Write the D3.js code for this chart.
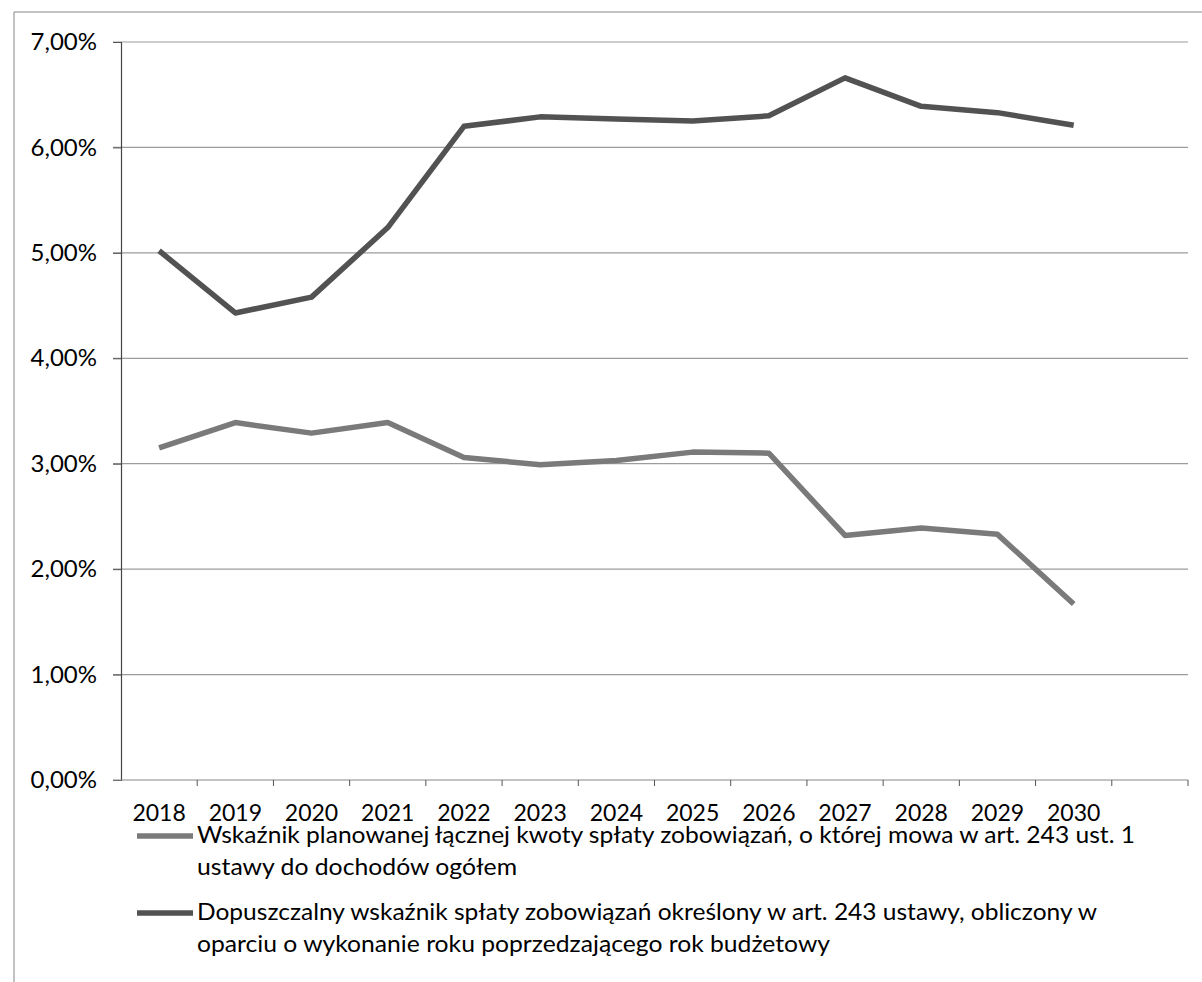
<!DOCTYPE html>
<html>
<head>
<meta charset="utf-8">
<script src="https://cdn.jsdelivr.net/npm/d3@7"></script>
<style>
  html, body { margin: 0; padding: 0; background: #fff; }
  svg { display: block; font-family: Lato, "Open Sans", sans-serif; }
</style>
</head>
<body>
<div id="chart"></div>
<script>
const years = ['2018', '2019', '2020', '2021', '2022', '2023', '2024', '2025', '2026', '2027', '2028', '2029', '2030', ''];
const yTicks = [0, 0.01, 0.02, 0.03, 0.04, 0.05, 0.06, 0.07];

// Wskaźnik planowanej łącznej kwoty spłaty zobowiązań
const planowany = [0.0315, 0.0339, 0.0329, 0.0339, 0.0306, 0.0299, 0.0303, 0.0311, 0.0310, 0.0232, 0.0239, 0.0233, 0.0167, null];
// Dopuszczalny wskaźnik spłaty zobowiązań
const dopuszczalny = [0.0502, 0.0443, 0.0458, 0.0524, 0.0620, 0.0629, 0.0627, 0.0625, 0.0630, 0.0666, 0.0639, 0.0633, 0.0621, null];

const legendLabels = [
  ['Wskaźnik planowanej łącznej kwoty spłaty zobowiązań, o której mowa w art. 243 ust. 1',
   'ustawy do dochodów ogółem'],
  ['Dopuszczalny wskaźnik spłaty zobowiązań określony w art. 243 ustawy, obliczony w',
   'oparciu o wykonanie roku poprzedzającego rok budżetowy']
];
const seriesColors = ['#7a7a7a', '#525252'];

const width = 1202;
const height = 982;
const margin = {top: 42, right: 14, bottom: 202, left: 121};

const svg = d3.select('#chart').append('svg')
  .attr('width', width)
  .attr('height', height);

// frame of the scanned box
svg.append('line')
  .attr('x1', 14).attr('x2', 14).attr('y1', 12).attr('y2', height)
  .attr('stroke', '#9a9a9a').attr('stroke-width', 1.2);
svg.append('line')
  .attr('x1', 14).attr('x2', width).attr('y1', 12).attr('y2', 12)
  .attr('stroke', '#8a8a8a').attr('stroke-width', 1.2);

// Scales
const xScale = d3.scaleBand()
  .domain(years)
  .range([margin.left, width - margin.right]);

const yScale = d3.scaleLinear()
  .domain([0, 0.07])
  .range([height - margin.bottom, margin.top]);

const fmt = d => d3.format('.2f')(d * 100).replace('.', ',') + '%';

// gridlines
svg.append('g')
  .selectAll('line')
  .data(yTicks.slice(1))
  .enter().append('line')
  .attr('x1', margin.left - 8)
  .attr('x2', width - margin.right)
  .attr('y1', d => yScale(d))
  .attr('y2', d => yScale(d))
  .attr('stroke', '#9c9c9c')
  .attr('stroke-width', 1.2);

// y axis
const yAxisG = svg.append('g')
  .attr('transform', `translate(${margin.left}, 0)`)
  .call(d3.axisLeft(yScale).tickValues(yTicks).tickFormat(fmt).tickSize(8).tickPadding(16));
yAxisG.select('.domain').attr('stroke', '#444').attr('stroke-width', 1.2);
yAxisG.selectAll('.tick line').attr('stroke', '#555');
yAxisG.selectAll('.tick text')
  .attr('fill', '#000')
  .style('font-size', '24px')
  .style('font-family', 'Lato, sans-serif');

// x axis: ticks between categories, labels at category centres
const xAxisG = svg.append('g')
  .attr('transform', `translate(0, ${yScale(0)})`);
xAxisG.append('line')
  .attr('x1', margin.left - 8).attr('x2', width - margin.right)
  .attr('stroke', '#888').attr('stroke-width', 1.2);
xAxisG.selectAll('.xtick')
  .data(years)
  .enter().append('line')
  .attr('class', 'xtick')
  .attr('x1', d => xScale(d) + xScale.bandwidth())
  .attr('x2', d => xScale(d) + xScale.bandwidth())
  .attr('y1', 0).attr('y2', 6)
  .attr('stroke', '#555');
xAxisG.selectAll('.xlabel')
  .data(years)
  .enter().append('text')
  .attr('class', 'xlabel')
  .attr('x', d => xScale(d) + xScale.bandwidth() / 2)
  .attr('y', 41)
  .attr('text-anchor', 'middle')
  .attr('fill', '#000')
  .style('font-size', '23px')
  .text(d => d);

// lines
const line = d3.line()
  .defined(d => d.v !== null)
  .x(d => xScale(d.year) + xScale.bandwidth() / 2)
  .y(d => yScale(d.v));

[planowany, dopuszczalny].forEach((vals, i) => {
  svg.append('path')
    .datum(years.map((y, j) => ({year: y, v: vals[j]})))
    .attr('fill', 'none')
    .attr('stroke', seriesColors[i])
    .attr('stroke-width', 5.5)
    .attr('stroke-linejoin', 'round')
    .attr('d', line);
});

// legend
const legendX = 137;
const legendTop = [843, 920];
const lineGap = 32;
const legendWidths = [[938, 320], [900, 633]];

legendLabels.forEach((lines, i) => {
  const g = svg.append('g');
  g.append('line')
    .attr('x1', legendX).attr('x2', legendX + 56)
    .attr('y1', legendTop[i] - 7).attr('y2', legendTop[i] - 7)
    .attr('stroke', seriesColors[i])
    .attr('stroke-width', 5.5);
  lines.forEach((txt, k) => {
    g.append('text')
      .attr('x', legendX + 60)
      .attr('y', legendTop[i] + k * lineGap)
      .attr('fill', '#000')
      .style('font-size', '24px')
      .attr('textLength', legendWidths[i][k])
      .attr('lengthAdjust', 'spacingAndGlyphs')
      .text(txt);
  });
});
</script>
</body>
</html>
